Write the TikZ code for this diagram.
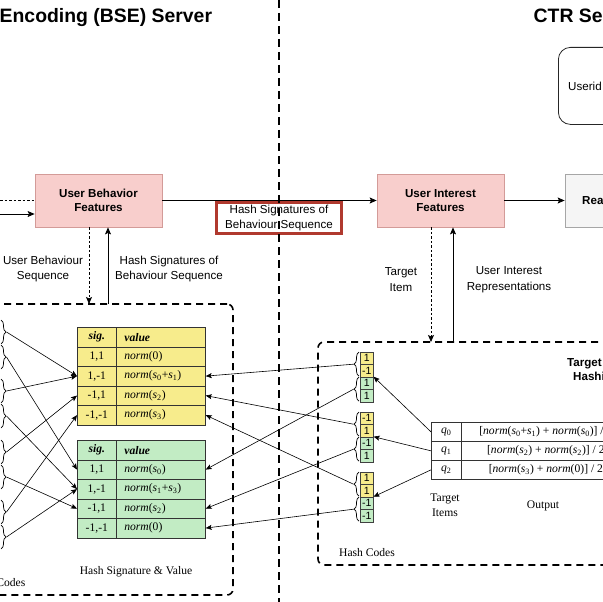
\documentclass[tikz,border=0pt]{standalone}
\usepackage{fontspec}
\setmainfont{Liberation Serif}
\setsansfont{Liberation Sans}
\usetikzlibrary{arrows.meta,decorations.pathreplacing}
\definecolor{featfill}{HTML}{F8CECC}
\definecolor{featdraw}{HTML}{D39B98}
\definecolor{redbox}{HTML}{B0392E}
\definecolor{tyel}{HTML}{F7EC8C}
\definecolor{tgrn}{HTML}{C2ECC4}
\definecolor{greyfill}{HTML}{F5F5F5}
\definecolor{greydraw}{HTML}{A6A6A6}
\newcommand\nrm[1]{\textit{norm}(#1)}
\newcommand\sv[1]{\textit{s}\textsubscript{#1}}
\newcommand\qv[1]{\textit{q}\textsubscript{#1}}
\begin{document}
\begin{tikzpicture}[x=1pt,y=-1pt,
  feat/.style={draw=featdraw, fill=featfill, line width=0.8pt, minimum width=127pt, minimum height=53pt, align=center, font=\sffamily\bfseries\fontsize{11.6}{14.5}\selectfont, inner sep=0pt},
  lbl/.style={align=center, font=\sffamily\fontsize{11.6}{15.5}\selectfont, inner sep=0pt},
  stxt/.style={align=center, font=\fontsize{11.6}{15}\selectfont, inner sep=0pt},
  btxt/.style={inner sep=0pt, font=\sffamily\bfseries\fontsize{11.6}{14}\selectfont},
  ttl/.style={anchor=base west, inner sep=0pt, font=\sffamily\bfseries\fontsize{19.4}{23}\selectfont},
  arr/.style={line width=0.8pt, -{Stealth[length=7pt,width=6pt,inset=1.5pt]}},
  tarr/.style={line width=0.6pt, -{Stealth[length=6pt,width=5pt,inset=1.2pt]}},
  dotarr/.style={arr, dash pattern=on 2.5pt off 2pt},
  bigdash/.style={line width=1.6pt, dash pattern=on 7pt off 5pt},
  dbox/.style={draw, bigdash, rounded corners=6pt, anchor=north west, inner sep=0pt, outer sep=0pt},
  c1/.style={draw=black!80, line width=0.7pt, anchor=north west, minimum width=39pt, minimum height=19.5pt, inner sep=0pt, font=\fontsize{11.6}{13}\selectfont},
  c2/.style={c1, minimum width=89pt, text width=73pt, inner xsep=8pt, align=left},
  hc/.style={draw=black!75, line width=0.6pt, anchor=north west, minimum width=13pt, minimum height=12.5pt, inner sep=0pt, font=\sffamily\fontsize{10.5}{11}\selectfont},
  oc/.style={draw=black!80, fill=white, line width=0.7pt, anchor=north west, minimum height=19pt, inner sep=0pt, font=\fontsize{11.6}{13}\selectfont},
  brc/.style={decorate, decoration={brace, amplitude=5pt}, line width=0.7pt},
]
\useasboundingbox (0,0) rectangle (603,602);
\clip (0,0) rectangle (603,602);

% titles
\node[ttl] (t1) at (-0.5,22.5) {Encoding (BSE) Server};
\node[ttl] (t2) at (533.5,22.5) {CTR Server};

% userid box
\node[draw=black!85, line width=0.8pt, rounded corners=12pt, anchor=north west, minimum width=150pt, minimum height=77pt, inner sep=0pt] (uid) at (558,47) {};
\node[lbl, anchor=west] (uidt) at (568,86) {Userid};

% dashed containers
\node[dbox, minimum width=253pt, minimum height=291pt] (lbox) at (-20,304) {};
\node[dbox, minimum width=322pt, minimum height=223pt] (rbox) at (318,342) {};

% feature boxes
\node[feat] (ubf) at (98.5,200.5) {User Behavior\\Features};
\node[feat] (uif) at (440.5,200.5) {User Interest\\Features};
\node[feat, draw=greydraw, fill=greyfill] (rea) at (628.5,200.5) {};
\node[btxt, anchor=west] (reat) at (582,200.5) {Rea};

\draw[arr] (ubf) -- (uif);
\draw[arr] (uif) -- (rea);

\node[lbl, draw=redbox, line width=2.6pt, fill=white, minimum width=125.4pt, minimum height=31.4pt, text depth=2.5pt] (hsb) at (279,218) {Hash Signatures of\\Behaviour Sequence};

% divider
\coordinate (dv1) at (279,0);
\coordinate (dv2) at (279,602);
\draw[line width=1.5pt, dash pattern=on 8pt off 5pt] (dv1) -- (dv2);

% incoming from the left
\coordinate (lin1) at (0,200.5);
\coordinate (lin2) at (0,214);
\draw[line width=0.8pt, dash pattern=on 2.5pt off 2pt] (lin1) -- (lin1 -| ubf.west);
\draw[arr] (lin2) -- (lin2 -| ubf.west);

% vertical links
\coordinate (a1) at (89,0);
\coordinate (a2) at (108,0);
\draw[dotarr] (ubf.south -| a1) -- (lbox.north -| a1);
\draw[arr] (lbox.north -| a2) -- (ubf.south -| a2);
\coordinate (b1) at (431,0);
\coordinate (b2) at (453,0);
\draw[dotarr] (uif.south -| b1) -- (rbox.north -| b1);
\draw[arr] (rbox.north -| b2) -- (uif.south -| b2);

\node[lbl] (l1) at (43,269) {User Behaviour\\Sequence};
\node[lbl] (l2) at (169,269) {Hash Signatures of\\Behaviour Sequence};
\node[lbl] (l3) at (401,279.5) {Target\\Item};
\node[lbl] (l4) at (509,279.5) {User Interest\\Representations};

% yellow table
\node[c1, fill=tyel] (y0a) at (77,327) {\textbf{\textit{sig.}}};
\node[c2, fill=tyel] (y0b) at (116,327) {\textbf{\textit{value}}};
\node[c1, fill=tyel] (y1a) at (77,346.5) {1,1};
\node[c2, fill=tyel] (y1b) at (116,346.5) {\nrm{0}};
\node[c1, fill=tyel] (y2a) at (77,366) {1,-1};
\node[c2, fill=tyel] (y2b) at (116,366) {\nrm{\sv0+\sv1}};
\node[c1, fill=tyel] (y3a) at (77,385.5) {-1,1};
\node[c2, fill=tyel] (y3b) at (116,385.5) {\nrm{\sv2}};
\node[c1, fill=tyel] (y4a) at (77,405) {-1,-1};
\node[c2, fill=tyel] (y4b) at (116,405) {\nrm{\sv3}};

% green table
\node[c1, fill=tgrn] (g0a) at (77,440) {\textbf{\textit{sig.}}};
\node[c2, fill=tgrn] (g0b) at (116,440) {\textbf{\textit{value}}};
\node[c1, fill=tgrn] (g1a) at (77,459.5) {1,1};
\node[c2, fill=tgrn] (g1b) at (116,459.5) {\nrm{\sv0}};
\node[c1, fill=tgrn] (g2a) at (77,479) {1,-1};
\node[c2, fill=tgrn] (g2b) at (116,479) {\nrm{\sv1+\sv3}};
\node[c1, fill=tgrn] (g3a) at (77,498.5) {-1,1};
\node[c2, fill=tgrn] (g3b) at (116,498.5) {\nrm{\sv2}};
\node[c1, fill=tgrn] (g4a) at (77,518) {-1,-1};
\node[c2, fill=tgrn] (g4b) at (116,518) {\nrm{0}};

% left hash codes (braces)
\foreach \i/\ya in {1/320,2/345,3/379,4/404,5/440,6/465,7/500,8/525} {
  \draw[brc] (1,\ya) -- (1,\ya+24);
  \coordinate (lb\i) at (6.5,\ya+12);
}
\draw[tarr] (lb1) -- (y2a.west);
\draw[tarr] (lb2) -- (g1a.west);
\draw[tarr] (lb3) -- (y2a.west);
\draw[tarr] (lb4) -- (g2a.west);
\draw[tarr] (lb5) -- (y3a.west);
\draw[tarr] (lb6) -- (g3a.west);
\draw[tarr] (lb7) -- (y4a.west);
\draw[tarr] (lb8) -- (g2a.west);

% right hash codes
\foreach \g/\ty/\va/\vb/\vc/\vd in {1/351.7/1/-1/1/1, 2/411.7/-1/1/-1/1, 3/471.7/1/1/-1/-1} {
  \node[hc, fill=tyel] (h\g1) at (360,\ty) {\va};
  \node[hc, fill=tyel] (h\g2) at (360,\ty+12.5) {\vb};
  \node[hc, fill=tgrn] (h\g3) at (360,\ty+25) {\vc};
  \node[hc, fill=tgrn] (h\g4) at (360,\ty+37.5) {\vd};
  \draw[brc] (359,\ty+24.5) -- (359,\ty+0.5);
  \draw[brc] (359,\ty+49.5) -- (359,\ty+25.5);
  \coordinate (rby\g) at (353.5,\ty+12.5);
  \coordinate (rbg\g) at (353.5,\ty+37.5);
}
\draw[tarr] (rby1) -- (y2b.east);
\draw[tarr] (rbg1) -- (g1b.east);
\draw[tarr] (rby2) -- (y3b.east);
\draw[tarr] (rbg2) -- (g3b.east);
\draw[tarr] (rby3) -- (y4b.east);
\draw[tarr] (rbg3) -- (g4b.east);

% output table
\node[oc, minimum width=30pt] (o0a) at (431,422) {\qv0};
\node[oc, minimum width=169pt] (o0b) at (461,422) {[\nrm{\sv0+\sv1} + \nrm{\sv0}] / 2};
\node[oc, minimum width=30pt] (o1a) at (431,441) {\qv1};
\node[oc, minimum width=169pt] (o1b) at (461,441) {[\nrm{\sv2} + \nrm{\sv2}] / 2};
\node[oc, minimum width=30pt] (o2a) at (431,460) {\qv2};
\node[oc, minimum width=169pt] (o2b) at (461,460) {[\nrm{\sv3} + \nrm{0}] / 2};
\draw[tarr] (o0a.west) -- (h13.north east);
\draw[tarr] (o1a.west) -- (h23.north east);
\draw[tarr] (o2a.west) -- (h33.north east);

% captions
\node[stxt] (ti) at (445,505.5) {Target\\Items};
\node[stxt] (outl) at (543,506) {Output};
\node[stxt] (hcr) at (367,553) {Hash Codes};
\node[stxt] (hsv) at (136,572) {Hash Signature \& Value};
\node[stxt, anchor=east] (hcl) at (25.5,583) {Hash Codes};
\node[btxt, anchor=west] (tg1) at (567,364) {Target};
\node[btxt, anchor=west] (tg2) at (573,378) {Hashing};
\end{tikzpicture}
\end{document}
